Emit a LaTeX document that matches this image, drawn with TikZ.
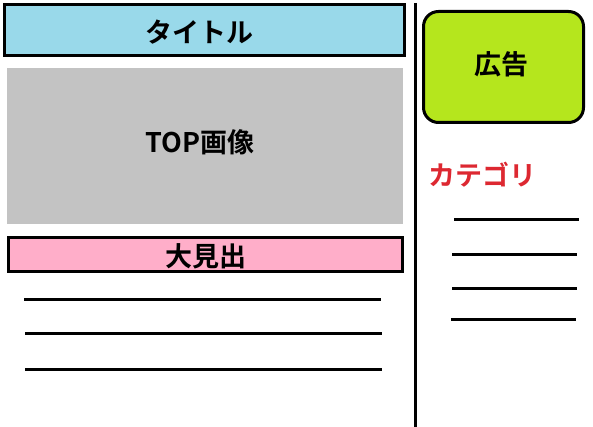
\documentclass[tikz,border=0pt]{standalone}
\usepackage{fontspec}
\newfontfamily\cjk{Noto Sans CJK JP}[BoldFont={Noto Sans CJK JP Bold}]
\definecolor{titleblue}{HTML}{99D9EA}
\definecolor{imggray}{HTML}{C3C3C3}
\definecolor{headpink}{HTML}{FFAEC9}
\definecolor{adlime}{HTML}{B5E61D}
\definecolor{catred}{HTML}{DD2831}
\tikzset{
  box/.style={draw=black, line width=3pt, inner sep=0pt},
  label/.style={inner sep=0pt, font=\cjk\bfseries\fontsize{27}{30}\selectfont},
  textline/.style={line width=3pt, black},
}
\begin{document}
\begin{tikzpicture}[x=1pt,y=-1pt]
\useasboundingbox[fill=white] (0,0) rectangle (593,427);
% left column
\node[box, fill=titleblue, minimum width=400pt, minimum height=51pt] (title) at (204.5,30) {};
\node[label] (titletext) at (199.5,32) {タイトル};
\node[box, draw=none, fill=imggray, minimum width=396pt, minimum height=156pt] (img) at (205,146) {};
\node[label] (imgtext) at (200,142) {TOP画像};
\node[box, fill=headpink, minimum width=394pt, minimum height=34pt] (head) at (205.5,254.5) {};
\node[label] (headtext) at (206,256.5) {大見出};
\draw[textline] (24,299) -- (381,299);
\draw[textline] (25,333) -- (382,333);
\draw[textline] (25,369) -- (382,369);
% divider
\draw[line width=3pt] (415,3) -- (415,427);
% right column
\node[box, fill=adlime, rounded corners=15pt, minimum width=160pt, minimum height=111pt] (ad) at (503.5,67) {};
\node[label] (adtext) at (501,64) {広告};
\node[label, text=catred, anchor=west] (cat) at (428,175) {カテゴリ};
\draw[textline] (454,220) -- (579,220);
\draw[textline] (452,254) -- (577,254);
\draw[textline] (452,288) -- (577,288);
\draw[textline] (451,319) -- (576,319);
\end{tikzpicture}
\end{document}
